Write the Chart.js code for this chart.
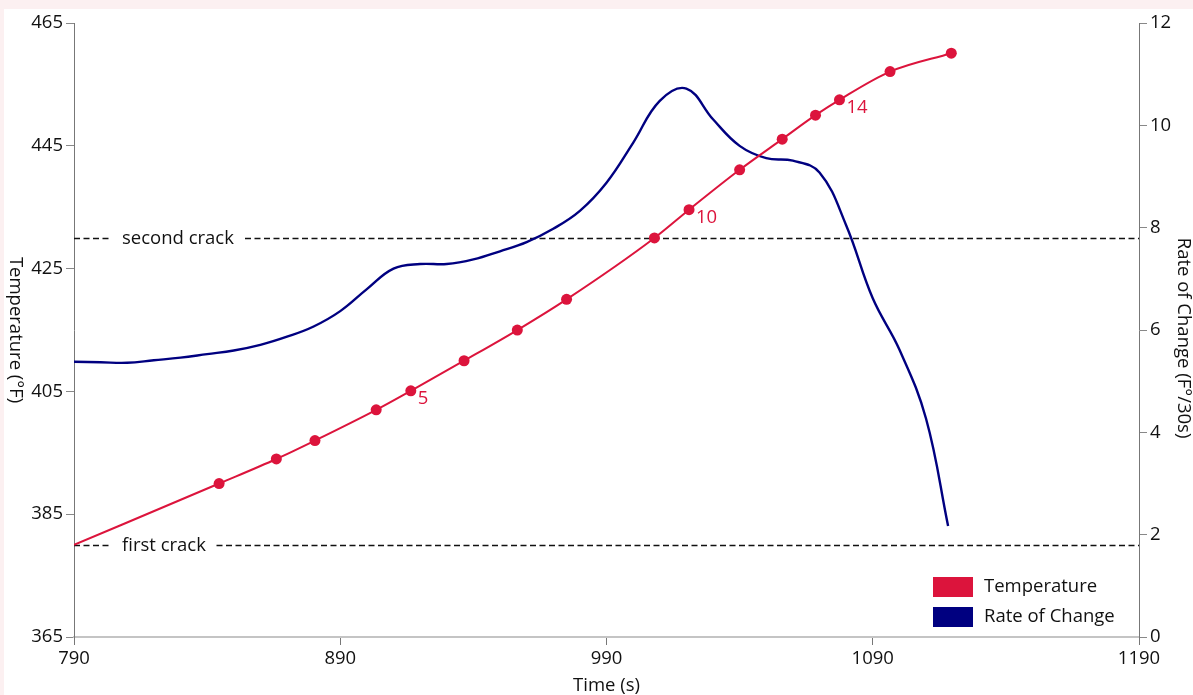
<!DOCTYPE html>
<html>
<head>
<meta charset="utf-8">
<script src="https://cdn.jsdelivr.net/npm/chart.js@4.4.1/dist/chart.umd.min.js"></script>
<style>
  html, body { margin: 0; padding: 0; background: #fcf0f1; overflow: hidden; }
  #wrap { position: absolute; left: 4px; top: 9px; width: 1189px; height: 686px; background: #fff; }
</style>
</head>
<body>
<div id="wrap"><canvas id="roast"></canvas></div>
<script>
// Bean temperature readings (time in seconds, temperature in °F)
const tempTimes  = [790, 844.5, 866, 880.5, 903.5, 916.5, 936.5, 956.5, 975, 1008, 1021, 1040, 1056, 1068.5, 1077.5, 1096.5, 1119.5];
const tempValues = [380, 390, 394, 397, 402, 405.1, 410, 415, 420, 430, 434.6, 441.1, 446.1, 450, 452.5, 457.1, 460.1];

// Rate of rise (°F per 30 s), sampled every 10 s
const rocTimes  = [790, 800, 810, 820, 830, 840, 850, 860, 870, 880, 890, 900, 910, 920, 930, 940, 950, 960, 970, 980, 990, 1000, 1010, 1020, 1030, 1040, 1050, 1060, 1070, 1080, 1090, 1100, 1110, 1118.3];
const rocValues = [5.38, 5.37, 5.36, 5.41, 5.46, 5.53, 5.60, 5.71, 5.87, 6.07, 6.37, 6.80, 7.20, 7.29, 7.29, 7.38, 7.54, 7.72, 7.98, 8.33, 8.88, 9.66, 10.48, 10.72, 10.12, 9.60, 9.36, 9.31, 9.08, 8.05, 6.62, 5.62, 4.27, 2.17];

// Roast milestones
const crackTemps  = [380, 430];
const crackLabels = ['first crack', 'second crack'];

// Sample numbers annotated next to the temperature curve
const labelledPoints = [5, 10, 14];

// Axis ticks
const timeTicks = [790, 890, 990, 1090, 1190];
const tempTicks = [365, 385, 405, 425, 445, 465];
const rocTicks  = [0, 2, 4, 6, 8, 10, 12];

const RED = '#dc143c';
const BLUE = '#000080';
const FONT = '"Open Sans", "Noto Sans", sans-serif';
const FS = 18.5;

const overlay = {
  id: 'overlay',
  beforeDatasetsDraw(chart) {
    const { ctx, chartArea: a, scales } = chart;
    ctx.save();
    ctx.font = `${FS}px ${FONT}`;
    crackTemps.forEach((t, i) => {
      const y = Math.round(scales.yT.getPixelForValue(t)) + 0.5;
      ctx.setLineDash([6, 3.5]);
      ctx.strokeStyle = '#111';
      ctx.lineWidth = 1.4;
      ctx.beginPath();
      ctx.moveTo(a.left, y);
      ctx.lineTo(a.right, y);
      ctx.stroke();
      const tx = a.left + 48;
      const w = ctx.measureText(crackLabels[i]).width;
      ctx.fillStyle = '#fff';
      ctx.fillRect(tx - 10, y - 9, w + 20, 18);
      ctx.fillStyle = '#111';
      ctx.textBaseline = 'middle';
      ctx.textAlign = 'left';
      ctx.fillText(crackLabels[i], tx, y);
    });
    ctx.restore();
  },
  afterDatasetsDraw(chart) {
    const { ctx, chartArea: a } = chart;
    ctx.save();
    ctx.font = `${FS}px ${FONT}`;
    ctx.textBaseline = 'middle';
    ctx.textAlign = 'left';

    // sample numbers beside selected points
    const pts = chart.getDatasetMeta(0).data;
    ctx.fillStyle = RED;
    labelledPoints.forEach(idx => {
      const p = pts[idx];
      ctx.fillText(String(idx), p.x + 7, p.y + 8);
    });

    // legend in the lower right corner of the plot
    chart.data.datasets.forEach((ds, i) => {
      const bx = a.right - 206;
      const by = a.bottom - 60 + i * 30;
      ctx.fillStyle = ds.borderColor;
      ctx.fillRect(bx, by, 40, 20);
      ctx.fillStyle = '#111';
      ctx.fillText(ds.label, bx + 51, by + 10);
    });

    // axis titles
    ctx.textAlign = 'center';
    ctx.fillStyle = '#111';
    ctx.fillText('Time (s)', (a.left + a.right) / 2, a.bottom + 49);
    ctx.translate(11, (a.top + a.bottom) / 2);
    ctx.rotate(Math.PI / 2);
    ctx.fillText('Temperature (°F)', 0, 0);
    ctx.restore();

    ctx.save();
    ctx.font = `${FS}px ${FONT}`;
    ctx.textBaseline = 'middle';
    ctx.textAlign = 'center';
    ctx.fillStyle = '#111';
    ctx.translate(1179, (a.top + a.bottom) / 2 + 8);
    ctx.rotate(Math.PI / 2);
    ctx.fillText('Rate of Change (F°/30s)', 0, 0);
    ctx.restore();
  }
};

const tickFont = { family: FONT, size: FS };
const plain = v => String(v);

new Chart(document.getElementById('roast'), {
  type: 'line',
  data: {
    datasets: [
      {
        label: 'Temperature',
        data: tempTimes.map((t, i) => ({ x: t, y: tempValues[i] })),
        yAxisID: 'yT',
        borderColor: RED,
        backgroundColor: RED,
        borderWidth: 2,
        pointRadius: tempTimes.map((t, i) => (i === 0 ? 0 : 5.5)),
        pointBorderWidth: 0,
        cubicInterpolationMode: 'monotone',
        fill: false
      },
      {
        label: 'Rate of Change',
        data: rocTimes.map((t, i) => ({ x: t, y: rocValues[i] })),
        yAxisID: 'yR',
        borderColor: BLUE,
        backgroundColor: BLUE,
        borderWidth: 2.4,
        pointRadius: 0,
        tension: 0.4,
        fill: false
      }
    ]
  },
  options: {
    responsive: true,
    maintainAspectRatio: false,
    animation: false,
    layout: { padding: { top: 9, left: 0, right: 0, bottom: 0 } },
    plugins: { legend: { display: false }, tooltip: { enabled: false } },
    scales: {
      x: {
        type: 'linear',
        min: timeTicks[0],
        max: timeTicks[timeTicks.length - 1],
        afterBuildTicks: s => { s.ticks = timeTicks.map(v => ({ value: v })); },
        afterFit: s => { s.height = 58; },
        grid: { drawOnChartArea: false, drawTicks: true, tickLength: 8, color: '#777', tickColor: '#777' },
        border: { color: '#c4c4c4', width: 2 },
        ticks: { font: tickFont, color: '#111', padding: 3, maxRotation: 0, callback: plain }
      },
      yT: {
        position: 'left',
        min: tempTicks[0],
        max: tempTicks[tempTicks.length - 1],
        afterBuildTicks: s => { s.ticks = tempTicks.map(v => ({ value: v })); },
        afterFit: s => { s.width = 70; },
        grid: { drawOnChartArea: false, drawTicks: true, tickLength: 8, color: '#888', tickColor: '#888' },
        border: { color: '#777', width: 1 },
        ticks: { font: tickFont, color: '#111', padding: 3, callback: plain }
      },
      yR: {
        position: 'right',
        min: rocTicks[0],
        max: rocTicks[rocTicks.length - 1],
        afterBuildTicks: s => { s.ticks = rocTicks.map(v => ({ value: v })); },
        afterFit: s => { s.width = 54; },
        grid: { drawOnChartArea: false, drawTicks: true, tickLength: 8, color: '#888', tickColor: '#888' },
        border: { color: '#777', width: 1 },
        ticks: { font: tickFont, color: '#111', padding: 3, callback: plain }
      }
    }
  },
  plugins: [overlay]
});
</script>
</body>
</html>
